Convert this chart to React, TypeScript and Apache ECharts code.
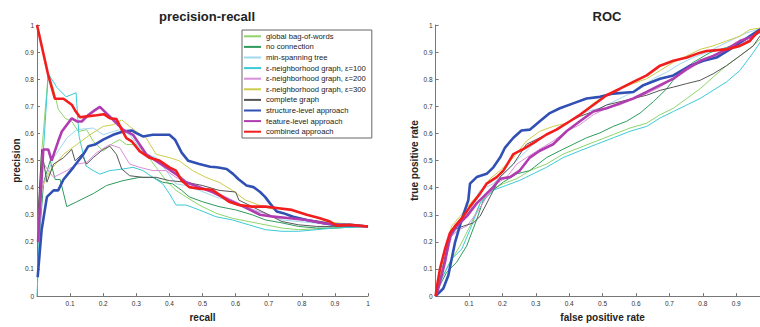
import React, { useEffect, useRef } from "react";
import * as echarts from "echarts";

const seriesNames = [
  "global bag-of-words",
  "no connection",
  "min-spanning tree",
  "ε-neighborhood graph, ε=100",
  "ε-neighborhood graph, ε=200",
  "ε-neighborhood graph, ε=300",
  "complete graph",
  "structure-level approach",
  "feature-level approach",
  "combined approach",
];

const axisTicks = [0, 0.1, 0.2, 0.3, 0.4, 0.5, 0.6, 0.7, 0.8, 0.9, 1];

// precision-recall curves: [recall, precision]
const prGlobalBow = [[0.002,0.22],[0.012,0.5],[0.034,0.82],[0.05,0.764],[0.064,0.69],[0.085,0.656],[0.105,0.644],[0.125,0.607],[0.15,0.614],[0.17,0.571],[0.2,0.535],[0.23,0.565],[0.25,0.577],[0.27,0.559],[0.3,0.559],[0.33,0.523],[0.36,0.475],[0.39,0.426],[0.42,0.39],[0.45,0.366],[0.49,0.336],[0.54,0.306],[0.59,0.287],[0.64,0.275],[0.69,0.263],[0.74,0.251],[0.79,0.245],[0.845,0.248],[0.895,0.251],[1,0.257]];
const prNoConnection = [[0.003,0.15],[0.02,0.42],[0.04,0.5],[0.055,0.43],[0.07,0.43],[0.09,0.33],[0.12,0.348],[0.17,0.378],[0.21,0.408],[0.26,0.426],[0.31,0.438],[0.35,0.438],[0.38,0.42],[0.41,0.414],[0.437,0.39],[0.46,0.366],[0.5,0.348],[0.55,0.33],[0.6,0.318],[0.65,0.3],[0.69,0.281],[0.74,0.27],[0.79,0.257],[0.845,0.251],[0.895,0.251],[1,0.257]];
const prMinSpanning = [[0.002,0.1],[0.015,0.4],[0.05,0.51],[0.09,0.583],[0.12,0.614],[0.17,0.62],[0.2,0.595],[0.23,0.607],[0.25,0.614],[0.28,0.595],[0.31,0.547],[0.33,0.523],[0.36,0.511],[0.39,0.463],[0.42,0.414],[0.45,0.408],[0.49,0.39],[0.54,0.366],[0.59,0.348],[0.64,0.318],[0.69,0.306],[0.74,0.281],[0.79,0.275],[0.845,0.269],[0.895,0.263],[1,0.257]];
const prEps100 = [[0,0],[0.015,0.45],[0.034,0.82],[0.06,0.77],[0.088,0.735],[0.118,0.75],[0.127,0.59],[0.148,0.48],[0.17,0.463],[0.19,0.45],[0.22,0.463],[0.26,0.469],[0.29,0.475],[0.32,0.463],[0.35,0.438],[0.38,0.414],[0.4,0.378],[0.42,0.336],[0.45,0.336],[0.49,0.318],[0.54,0.293],[0.59,0.281],[0.64,0.263],[0.69,0.245],[0.74,0.239],[0.79,0.239],[0.845,0.245],[0.895,0.251],[1,0.257]];
const prEps200 = [[0.003,0.3],[0.014,0.5],[0.03,0.47],[0.05,0.438],[0.09,0.463],[0.12,0.487],[0.15,0.493],[0.18,0.529],[0.22,0.559],[0.25,0.547],[0.28,0.487],[0.31,0.475],[0.35,0.463],[0.39,0.463],[0.42,0.438],[0.47,0.414],[0.51,0.39],[0.55,0.378],[0.59,0.354],[0.63,0.33],[0.67,0.312],[0.72,0.293],[0.775,0.287],[0.825,0.275],[0.875,0.269],[1,0.257]];
const prEps300 = [[0.003,0.2],[0.015,0.4],[0.04,0.463],[0.08,0.523],[0.12,0.559],[0.16,0.595],[0.2,0.626],[0.23,0.632],[0.256,0.65],[0.28,0.626],[0.3,0.607],[0.33,0.583],[0.36,0.523],[0.4,0.511],[0.43,0.499],[0.47,0.463],[0.51,0.438],[0.55,0.42],[0.59,0.39],[0.63,0.354],[0.67,0.336],[0.72,0.318],[0.765,0.293],[0.815,0.281],[0.865,0.275],[0.915,0.269],[1,0.257]];
const prComplete = [[0.003,0.3],[0.014,0.541],[0.03,0.42],[0.05,0.487],[0.08,0.51],[0.105,0.541],[0.115,0.499],[0.135,0.523],[0.15,0.487],[0.17,0.511],[0.2,0.541],[0.22,0.553],[0.24,0.523],[0.256,0.469],[0.28,0.444],[0.32,0.438],[0.36,0.438],[0.4,0.426],[0.45,0.42],[0.5,0.408],[0.55,0.39],[0.6,0.384],[0.61,0.354],[0.65,0.33],[0.69,0.306],[0.74,0.275],[0.79,0.263],[0.845,0.257],[0.895,0.257],[1,0.257]];
const prStructure = [[0.002,0.07],[0.014,0.245],[0.03,0.366],[0.05,0.39],[0.064,0.39],[0.08,0.43],[0.11,0.475],[0.14,0.523],[0.155,0.553],[0.175,0.559],[0.2,0.577],[0.23,0.595],[0.26,0.607],[0.286,0.611],[0.3,0.601],[0.32,0.589],[0.35,0.595],[0.37,0.595],[0.4,0.595],[0.417,0.577],[0.437,0.529],[0.457,0.499],[0.49,0.487],[0.523,0.477],[0.543,0.475],[0.573,0.469],[0.593,0.45],[0.608,0.432],[0.633,0.408],[0.654,0.402],[0.674,0.384],[0.689,0.366],[0.704,0.342],[0.724,0.312],[0.744,0.306],[0.774,0.293],[0.815,0.281],[0.855,0.272],[0.895,0.263],[0.946,0.263],[1,0.257]];
const prFeature = [[0.003,0.2],[0.019,0.541],[0.034,0.541],[0.044,0.5],[0.064,0.571],[0.075,0.607],[0.105,0.656],[0.122,0.644],[0.135,0.644],[0.155,0.668],[0.175,0.686],[0.19,0.698],[0.21,0.674],[0.235,0.644],[0.26,0.614],[0.29,0.595],[0.31,0.559],[0.33,0.523],[0.36,0.499],[0.39,0.475],[0.42,0.45],[0.45,0.42],[0.49,0.402],[0.53,0.384],[0.58,0.354],[0.624,0.33],[0.674,0.3],[0.714,0.293],[0.764,0.287],[0.815,0.281],[0.865,0.269],[0.915,0.263],[1,0.257]];
const prCombined = [[0,1],[0.033,0.82],[0.054,0.728],[0.08,0.728],[0.105,0.706],[0.115,0.685],[0.13,0.66],[0.15,0.663],[0.18,0.667],[0.202,0.671],[0.22,0.656],[0.24,0.653],[0.256,0.614],[0.27,0.583],[0.286,0.571],[0.31,0.535],[0.34,0.51],[0.37,0.5],[0.4,0.475],[0.42,0.463],[0.437,0.426],[0.46,0.402],[0.49,0.396],[0.53,0.392],[0.56,0.366],[0.58,0.348],[0.61,0.336],[0.65,0.33],[0.69,0.33],[0.73,0.324],[0.77,0.318],[0.815,0.3],[0.855,0.287],[0.885,0.275],[0.905,0.26],[0.945,0.263],[1,0.257]];

// ROC curves: [false positive rate, true positive rate]
const rocGlobalBow = [[0,0],[0.008,0.04],[0.043,0.125],[0.073,0.185],[0.103,0.258],[0.133,0.342],[0.163,0.391],[0.203,0.415],[0.243,0.433],[0.282,0.463],[0.332,0.487],[0.382,0.524],[0.432,0.548],[0.482,0.572],[0.532,0.596],[0.582,0.62],[0.632,0.638],[0.672,0.669],[0.712,0.693],[0.752,0.729],[0.792,0.765],[0.831,0.808],[0.871,0.85],[0.911,0.886],[0.951,0.923],[0.971,0.947],[1,1]];
const rocNoConnection = [[0,0],[0.008,0.028],[0.033,0.088],[0.063,0.125],[0.093,0.185],[0.123,0.282],[0.143,0.354],[0.173,0.391],[0.203,0.421],[0.243,0.451],[0.282,0.463],[0.332,0.511],[0.372,0.536],[0.412,0.56],[0.452,0.584],[0.492,0.602],[0.532,0.626],[0.572,0.645],[0.612,0.675],[0.652,0.717],[0.692,0.765],[0.722,0.814],[0.771,0.862],[0.821,0.898],[0.871,0.917],[0.911,0.935],[0.951,0.959],[0.971,0.971],[1,1]];
const rocMinSpanning = [[0,0],[0.013,0.076],[0.048,0.221],[0.093,0.294],[0.133,0.39],[0.173,0.415],[0.213,0.463],[0.252,0.511],[0.292,0.56],[0.332,0.596],[0.372,0.62],[0.412,0.651],[0.452,0.681],[0.492,0.693],[0.532,0.717],[0.572,0.741],[0.612,0.765],[0.652,0.802],[0.692,0.826],[0.731,0.856],[0.771,0.88],[0.811,0.898],[0.851,0.923],[0.891,0.947],[0.931,0.971],[0.971,0.986],[1,1]];
const rocEps100 = [[0,0],[0.008,0.04],[0.048,0.137],[0.078,0.173],[0.103,0.245],[0.133,0.342],[0.173,0.391],[0.213,0.409],[0.252,0.427],[0.292,0.451],[0.332,0.475],[0.382,0.511],[0.432,0.536],[0.482,0.56],[0.532,0.584],[0.582,0.608],[0.632,0.626],[0.672,0.657],[0.712,0.681],[0.752,0.705],[0.792,0.729],[0.831,0.759],[0.871,0.79],[0.911,0.832],[0.951,0.898],[0.971,0.935],[1,1]];
const rocEps200 = [[0,0],[0.008,0.028],[0.033,0.149],[0.048,0.221],[0.07,0.245],[0.093,0.258],[0.123,0.306],[0.153,0.366],[0.183,0.415],[0.213,0.439],[0.243,0.487],[0.272,0.511],[0.312,0.542],[0.352,0.572],[0.392,0.608],[0.432,0.632],[0.472,0.669],[0.512,0.693],[0.552,0.705],[0.592,0.729],[0.632,0.747],[0.672,0.771],[0.712,0.802],[0.752,0.832],[0.792,0.862],[0.831,0.88],[0.871,0.904],[0.911,0.929],[0.951,0.953],[0.971,0.977],[1,1]];
const rocEps300 = [[0,0],[0.008,0.052],[0.028,0.173],[0.048,0.258],[0.073,0.294],[0.103,0.342],[0.133,0.378],[0.163,0.433],[0.193,0.463],[0.233,0.511],[0.272,0.572],[0.312,0.608],[0.352,0.626],[0.392,0.638],[0.432,0.669],[0.472,0.711],[0.512,0.741],[0.552,0.765],[0.592,0.784],[0.632,0.802],[0.672,0.832],[0.712,0.862],[0.752,0.886],[0.792,0.91],[0.831,0.923],[0.871,0.941],[0.911,0.959],[0.941,0.983],[0.971,0.989],[1,1]];
const rocComplete = [[0,0],[0.008,0.028],[0.033,0.173],[0.053,0.245],[0.083,0.258],[0.113,0.27],[0.133,0.294],[0.163,0.366],[0.193,0.439],[0.233,0.487],[0.272,0.56],[0.312,0.584],[0.352,0.608],[0.392,0.638],[0.432,0.663],[0.472,0.681],[0.512,0.705],[0.552,0.717],[0.592,0.729],[0.632,0.741],[0.672,0.759],[0.712,0.771],[0.752,0.784],[0.792,0.796],[0.831,0.82],[0.871,0.85],[0.911,0.886],[0.951,0.923],[0.971,0.959],[1,1]];
const rocStructure = [[0,0],[0.023,0.028],[0.038,0.076],[0.058,0.197],[0.078,0.282],[0.098,0.354],[0.103,0.415],[0.123,0.439],[0.153,0.451],[0.173,0.475],[0.193,0.511],[0.208,0.548],[0.233,0.584],[0.257,0.611],[0.282,0.614],[0.312,0.645],[0.342,0.675],[0.372,0.693],[0.412,0.711],[0.452,0.729],[0.492,0.735],[0.532,0.747],[0.592,0.753],[0.622,0.778],[0.672,0.802],[0.712,0.814],[0.762,0.85],[0.802,0.868],[0.841,0.88],[0.881,0.91],[0.911,0.935],[0.941,0.959],[0.971,0.983],[1,1]];
const rocFeature = [[0,0],[0.008,0.028],[0.028,0.125],[0.043,0.221],[0.063,0.258],[0.093,0.294],[0.123,0.342],[0.143,0.366],[0.173,0.403],[0.193,0.433],[0.223,0.439],[0.252,0.463],[0.282,0.511],[0.312,0.536],[0.352,0.56],[0.392,0.608],[0.432,0.645],[0.472,0.681],[0.512,0.693],[0.552,0.711],[0.592,0.729],[0.632,0.753],[0.672,0.778],[0.712,0.802],[0.752,0.838],[0.792,0.868],[0.831,0.886],[0.871,0.91],[0.911,0.941],[0.951,0.959],[0.971,0.977],[1,1]];
const rocCombined = [[0,0],[0.003,0.028],[0.013,0.1],[0.028,0.173],[0.043,0.233],[0.058,0.258],[0.083,0.294],[0.103,0.33],[0.133,0.378],[0.153,0.415],[0.183,0.439],[0.203,0.463],[0.233,0.524],[0.262,0.542],[0.302,0.572],[0.332,0.596],[0.362,0.614],[0.402,0.645],[0.432,0.669],[0.472,0.705],[0.512,0.741],[0.552,0.765],[0.592,0.79],[0.632,0.814],[0.672,0.85],[0.712,0.868],[0.752,0.88],[0.792,0.898],[0.811,0.904],[0.871,0.91],[0.911,0.923],[0.941,0.941],[0.961,0.971],[1,1]];

const prData = [prGlobalBow, prNoConnection, prMinSpanning, prEps100, prEps200, prEps300, prComplete, prStructure, prFeature, prCombined];
const rocData = [rocGlobalBow, rocNoConnection, rocMinSpanning, rocEps100, rocEps200, rocEps300, rocComplete, rocStructure, rocFeature, rocCombined];

const lineColors = ["#8fd46a", "#2e9a5c", "#a0d8ee", "#3ccad6", "#d98ed9", "#cccc4c", "#565656", "#3050b4", "#b03cb0", "#f21e1e"];
const lineWidths = [1, 1, 1, 1, 1, 1, 1, 2.6, 2.6, 2.6];

const FONT = "Liberation Sans, Arial, Helvetica, sans-serif";

function tickLabel(v: number, hideZero: boolean, hideOne: boolean) {
  if (v === 0) return hideZero ? "" : "0";
  if (v === 1) return hideOne ? "" : "1";
  return v.toFixed(1);
}

function makeAxis(gridIndex: number, isX: boolean, name: string, nameGap: number, hideOne: boolean) {
  return {
    type: "value",
    gridIndex,
    min: axisTicks[0],
    max: axisTicks[axisTicks.length - 1],
    interval: 0.1,
    name,
    nameLocation: "middle",
    nameGap,
    nameTextStyle: { fontFamily: FONT, fontWeight: "bold", fontSize: 10, color: "#222" },
    axisLine: { show: true, lineStyle: { color: "#777", width: 1 } },
    axisTick: { show: true, inside: true, length: 3, lineStyle: { color: "#777" } },
    splitLine: { show: false },
    axisLabel: {
      fontFamily: FONT,
      fontSize: 6.5,
      color: "#333",
      margin: isX ? 4 : 3,
      formatter: (v: number) => tickLabel(v, isX, hideOne),
    },
  };
}

export default function App() {
  const ref = useRef<HTMLDivElement>(null);
  useEffect(() => {
    if (!ref.current) return;
    const chart = echarts.init(ref.current, undefined, { renderer: "svg" });
    const series: any[] = [];
    seriesNames.forEach((name, i) => {
      series.push({
        name,
        type: "line",
        xAxisIndex: 0,
        yAxisIndex: 0,
        data: prData[i],
        symbol: "none",
        showSymbol: false,
        lineStyle: { color: lineColors[i], width: lineWidths[i] },
        itemStyle: { color: lineColors[i] },
        z: lineWidths[i] > 1 ? 3 : 2,
      });
    });
    seriesNames.forEach((name, i) => {
      series.push({
        name,
        type: "line",
        xAxisIndex: 1,
        yAxisIndex: 1,
        data: rocData[i],
        symbol: "none",
        showSymbol: false,
        lineStyle: { color: lineColors[i], width: lineWidths[i] },
        itemStyle: { color: lineColors[i] },
        z: lineWidths[i] > 1 ? 3 : 2,
      });
    });
    chart.setOption({
      animation: false,
      backgroundColor: "#ffffff",
      title: [
        {
          text: "precision-recall",
          left: 202,
          top: 5,
          textAlign: "center",
          textStyle: { fontFamily: FONT, fontWeight: "bold", fontSize: 13, color: "#222" },
        },
        {
          text: "ROC",
          left: 602,
          top: 5,
          textAlign: "center",
          textStyle: { fontFamily: FONT, fontWeight: "bold", fontSize: 13, color: "#222" },
        },
      ],
      legend: {
        data: seriesNames,
        orient: "vertical",
        left: 242,
        top: 30,
        width: 124,
        padding: [1, 6, 1, 1],
        itemGap: 0,
        itemWidth: 17,
        itemHeight: 8,
        borderColor: "#666",
        borderWidth: 1,
        backgroundColor: "#fff",
        selectedMode: false,
        itemStyle: { opacity: 0 },
        textStyle: { fontFamily: FONT, fontSize: 7.7, color: "#222", lineHeight: 10.6 },
      },
      grid: [
        { left: 37, top: 25, width: 331, height: 276, containLabel: false },
        { left: 435.6, top: 25, width: 334, height: 276, containLabel: false },
      ],
      xAxis: [makeAxis(0, true, "recall", 10, false), makeAxis(1, true, "false positive rate", 10, true)],
      yAxis: [makeAxis(0, false, "precision", 12, false), makeAxis(1, false, "true positive rate", 10, false)],
      series,
    });
    return () => chart.dispose();
  }, []);
  return (
    <div
      style={{ position: "absolute", left: 0, top: 0, width: 760, height: 327, overflow: "hidden", background: "#fff" }}
    >
      <div ref={ref} style={{ width: 790, height: 327 }} />
    </div>
  );
}
